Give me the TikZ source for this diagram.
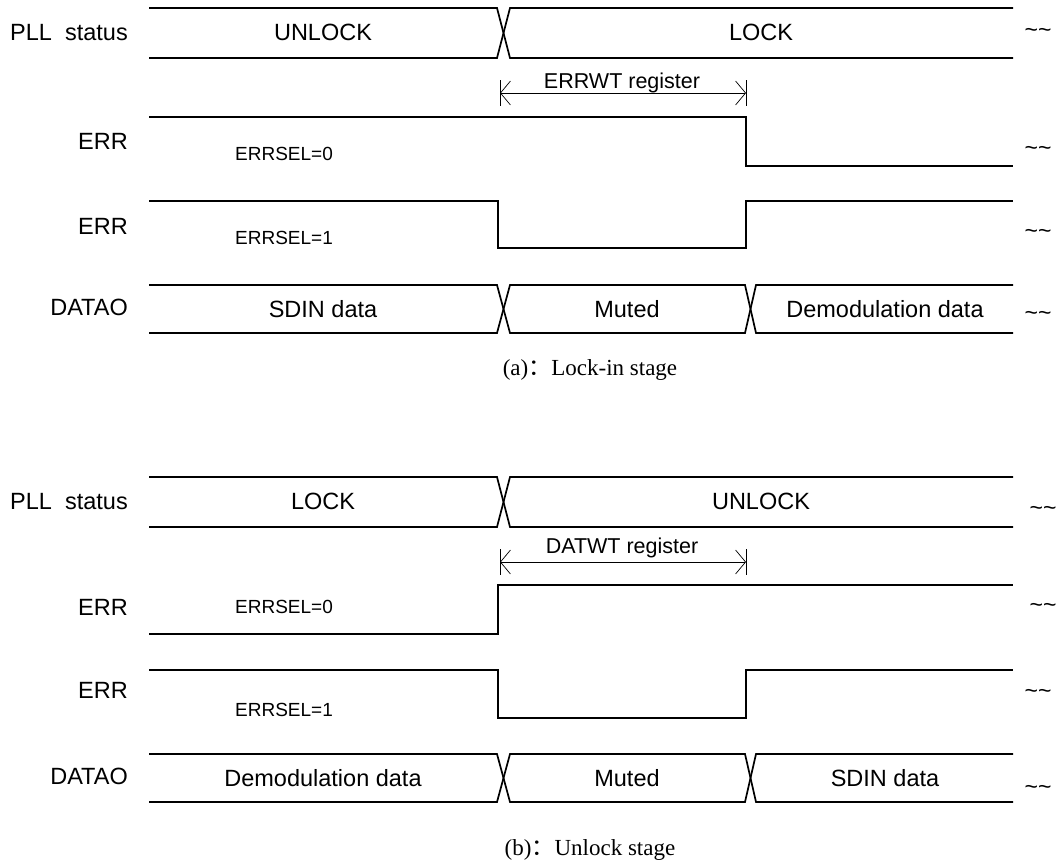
\documentclass[tikz,border=0pt]{standalone}
\usepackage{fontspec}
\setmainfont{Liberation Serif}
\newfontfamily\arial{Liberation Sans}
\newfontfamily\cjk{Noto Sans CJK SC}
\usetikzlibrary{arrows.meta}
\tikzset{
  sig/.style={line width=1.7pt, line join=miter},
  lbl/.style={font=\arial\fontsize{23.5}{26}\selectfont, inner sep=0pt, anchor=base},
  rowlbl/.style={lbl, anchor=base east},
  reglbl/.style={font=\arial\fontsize{21.5}{24}\selectfont, inner sep=0pt, anchor=base},
  sel/.style={font=\arial\fontsize{19}{22}\selectfont, inner sep=0pt, anchor=base west},
  tl/.style={font=\arial\fontsize{23}{26}\selectfont, inner sep=0pt, anchor=base},
  captext/.style={font=\fontsize{23}{26}\selectfont, inner sep=0pt, anchor=base},
  dimline/.style={line width=0.7pt, {Straight Barb[length=10pt,width=24pt]}-{Straight Barb[length=10pt,width=24pt]}},
  tickline/.style={line width=0.7pt}
}
\newcommand\twotilde{\string~\string~}
\begin{document}
\begin{tikzpicture}[x=1pt,y=-1pt]
\useasboundingbox (0,0) rectangle (1059,865);

%%%%%%%%%%%%%%%% (a) Lock-in stage
% PLL status
\node[rowlbl] (pa) at (128,40) {PLL\ \ status};
\draw[sig] (149,8) -- (497,8) -- (510,58) -- (1013,58);
\draw[sig] (149,58) -- (497,58) -- (510,8) -- (1013,8);
\node[lbl] (pa1) at (323,40) {UNLOCK};
\node[lbl] (pa2) at (761,40) {LOCK};
\node[tl] (ta1) at (1038,37) {\twotilde};

% ERRWT
\coordinate (wa1) at (500,93);
\coordinate (wa2) at (746,93);
\draw[tickline] (500,80) -- (500,106);
\draw[tickline] (746,80) -- (746,106);
\draw[dimline] (wa1) -- (wa2);
\node[reglbl] (wa) at (622,88) {ERRWT register};

% ERR, ERRSEL=0
\node[rowlbl] (ea1) at (128,149) {ERR};
\node[sel] (sa1) at (235,160) {ERRSEL=0};
\draw[sig] (149,117) -- (746,117) -- (746,166) -- (1013,166);
\node[tl] (ta2) at (1038,155) {\twotilde};

% ERR, ERRSEL=1
\node[rowlbl] (ea2) at (128,234) {ERR};
\node[sel] (sa2) at (235,244) {ERRSEL=1};
\draw[sig] (149,201) -- (498,201) -- (498,248) -- (746,248) -- (746,201) -- (1013,201);
\node[tl] (ta3) at (1038,238) {\twotilde};

% DATAO
\node[rowlbl] (da) at (128,315) {DATAO};
\draw[sig] (149,285) -- (497,285) -- (510,333) -- (745,333) -- (756,285) -- (1013,285);
\draw[sig] (149,333) -- (497,333) -- (510,285) -- (745,285) -- (756,333) -- (1013,333);
\node[lbl] (da1) at (323,317) {SDIN data};
\node[lbl] (da2) at (627,317) {Muted};
\node[lbl] (da3) at (885,317) {Demodulation data};
\node[tl] (ta4) at (1038,320) {\twotilde};

\node[captext] (capa) at (590,375) {(a){\cjk ：}Lock-in stage};

%%%%%%%%%%%%%%%% (b) Unlock stage
% PLL status
\node[rowlbl] (pb) at (128,509) {PLL\ \ status};
\draw[sig] (149,477) -- (497,477) -- (510,527) -- (1013,527);
\draw[sig] (149,527) -- (497,527) -- (510,477) -- (1013,477);
\node[lbl] (pb1) at (323,509) {LOCK};
\node[lbl] (pb2) at (761,509) {UNLOCK};
\node[tl] (tb1) at (1043,515) {\twotilde};

% DATWT
\coordinate (wb1) at (500,562);
\coordinate (wb2) at (746,562);
\draw[tickline] (500,549) -- (500,575);
\draw[tickline] (746,549) -- (746,575);
\draw[dimline] (wb1) -- (wb2);
\node[reglbl] (wb) at (622,553) {DATWT register};

% ERR, ERRSEL=0
\node[rowlbl] (eb1) at (128,615) {ERR};
\node[sel] (sb1) at (235,613) {ERRSEL=0};
\draw[sig] (149,634) -- (498,634) -- (498,585) -- (1013,585);
\node[tl] (tb2) at (1043,612) {\twotilde};

% ERR, ERRSEL=1
\node[rowlbl] (eb2) at (128,698) {ERR};
\node[sel] (sb2) at (235,716) {ERRSEL=1};
\draw[sig] (149,670) -- (498,670) -- (498,718) -- (746,718) -- (746,670) -- (1013,670);
\node[tl] (tb3) at (1038,698) {\twotilde};

% DATAO
\node[rowlbl] (db) at (128,784) {DATAO};
\draw[sig] (149,754) -- (497,754) -- (510,802) -- (745,802) -- (756,754) -- (1013,754);
\draw[sig] (149,802) -- (497,802) -- (510,754) -- (745,754) -- (756,802) -- (1013,802);
\node[lbl] (db1) at (323,786) {Demodulation data};
\node[lbl] (db2) at (627,786) {Muted};
\node[lbl] (db3) at (885,786) {SDIN data};
\node[tl] (tb4) at (1038,794) {\twotilde};

\node[captext] (capb) at (590,855) {(b){\cjk ：}Unlock stage};
\end{tikzpicture}
\end{document}
